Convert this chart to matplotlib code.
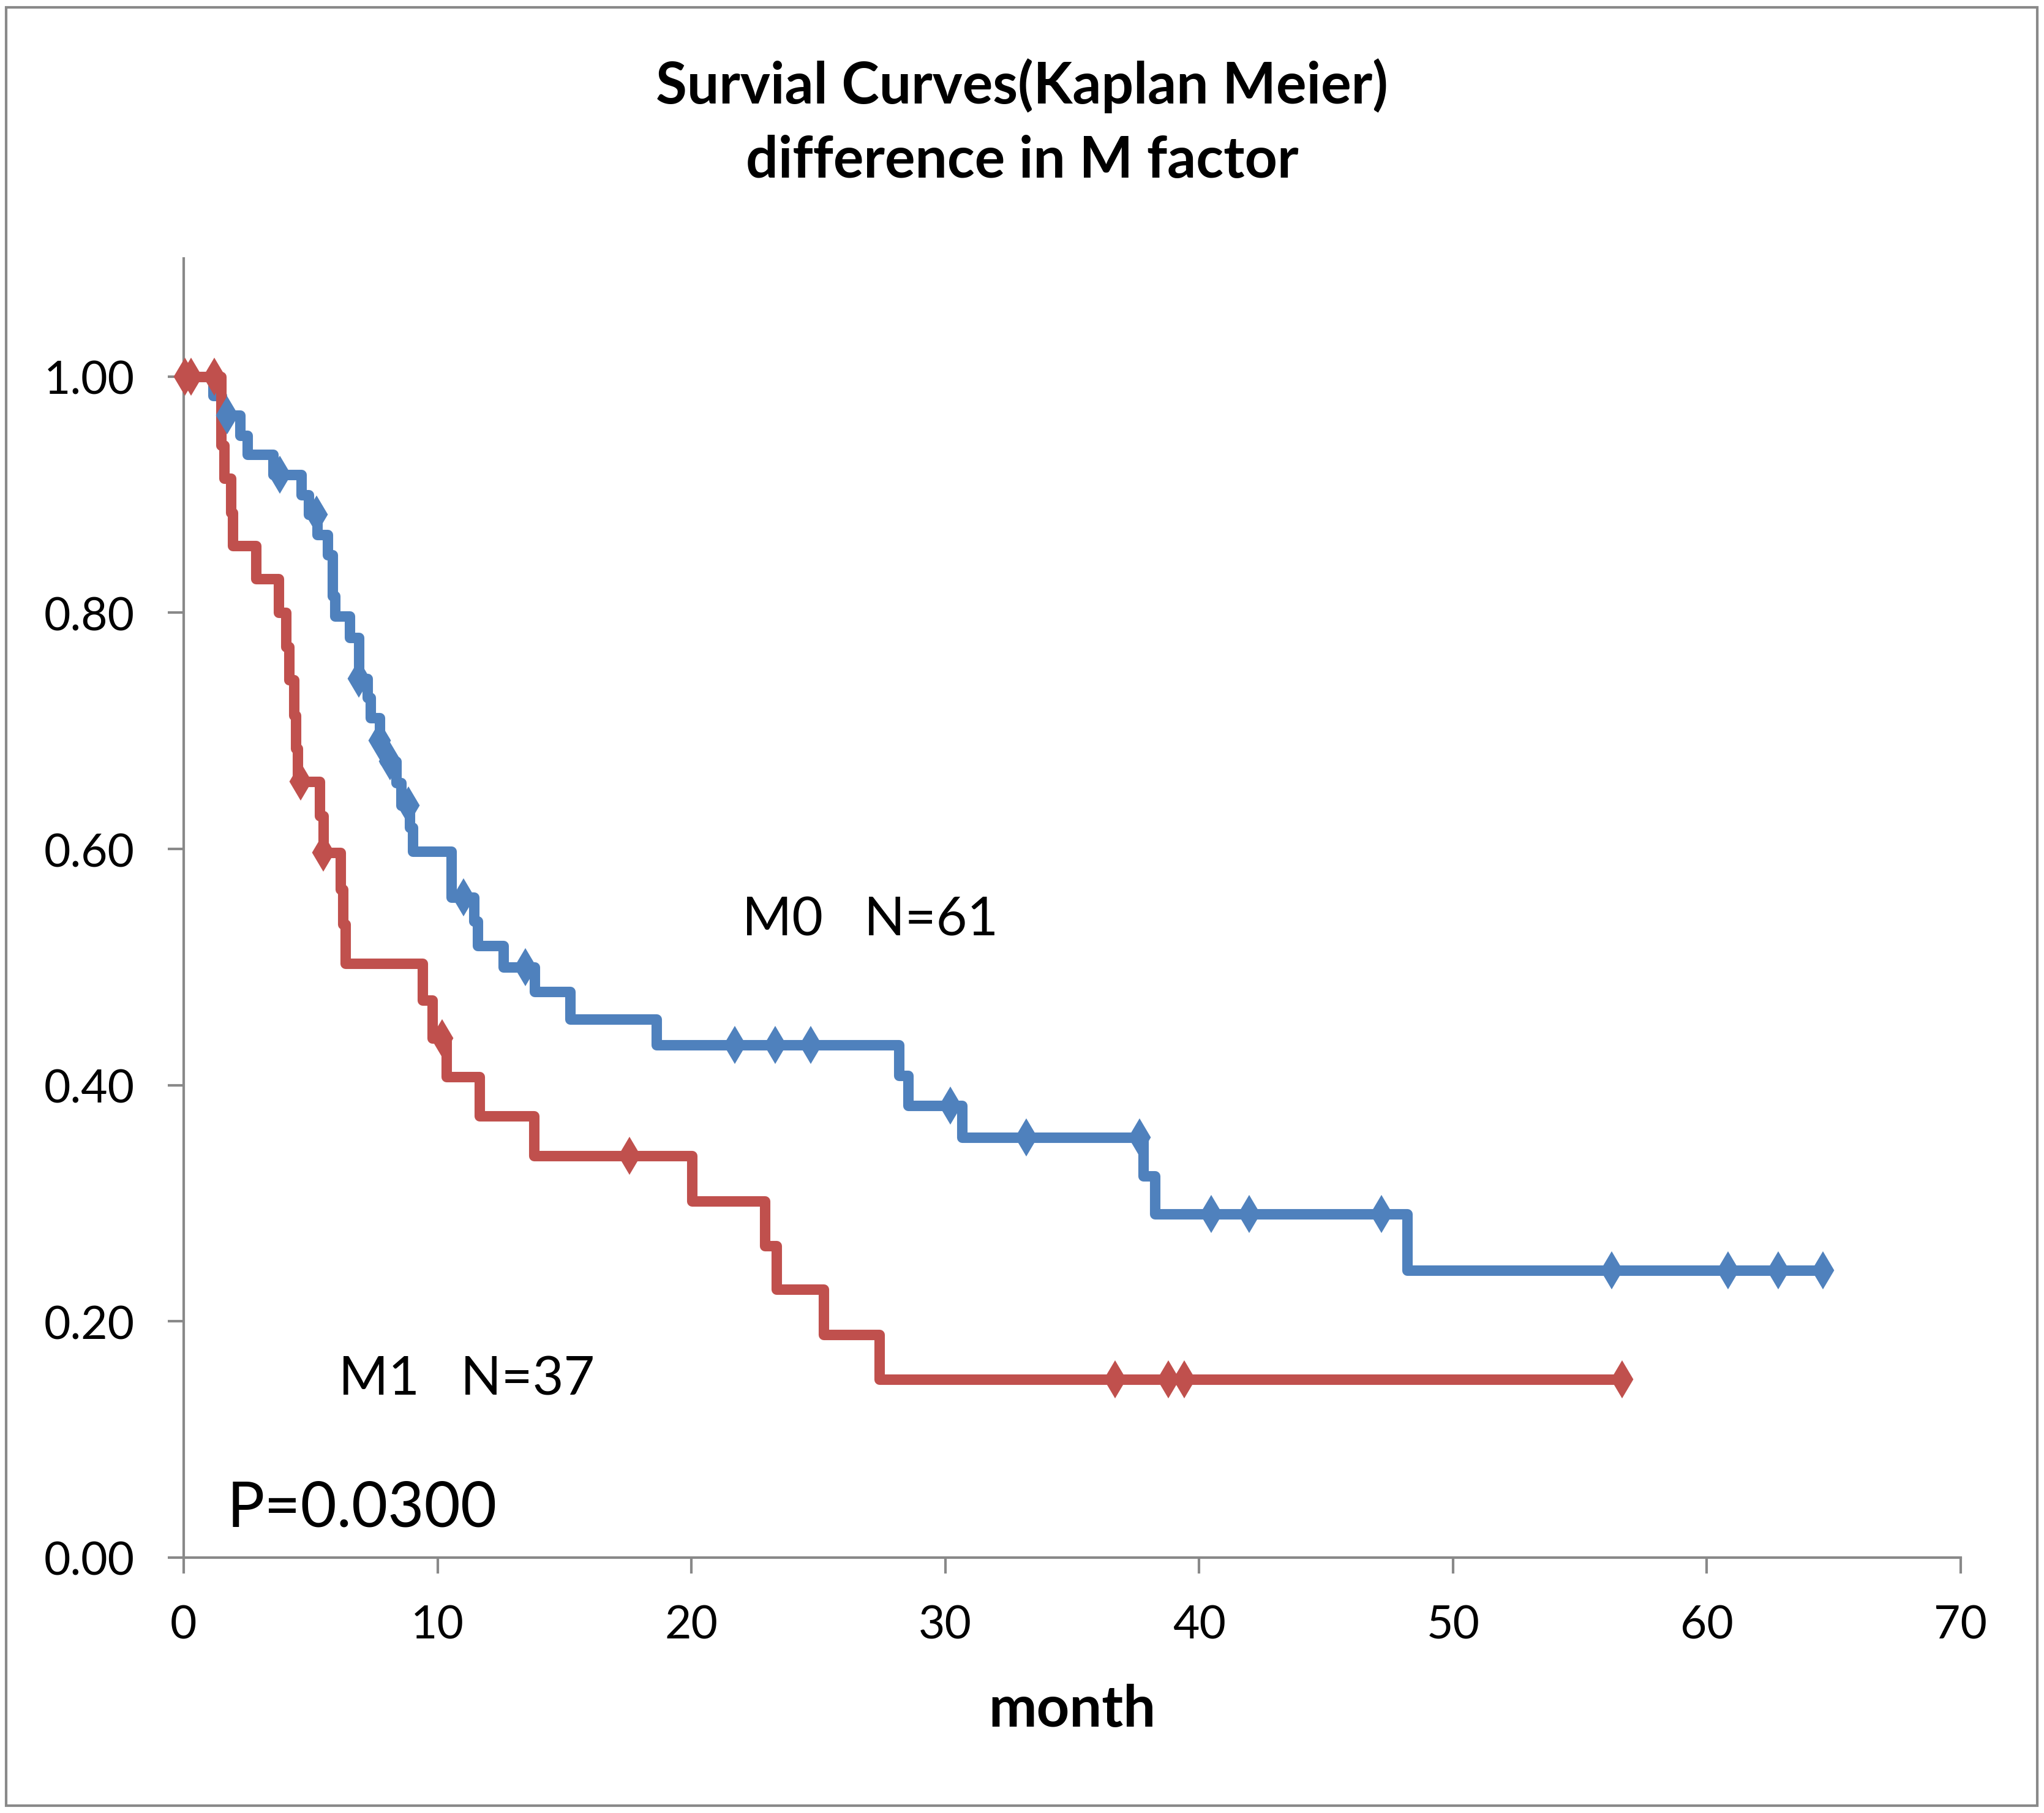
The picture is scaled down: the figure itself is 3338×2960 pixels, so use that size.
import numpy as np
import matplotlib
matplotlib.use("Agg")
import matplotlib.pyplot as plt
from matplotlib.patches import Rectangle

plt.rcParams['font.family'] = ['Lato', 'DejaVu Sans']

# ==========================================
# DATA
# ==========================================
# M0 group: step times (month) and survival after each drop
m0_times = [0, 1.16, 1.50, 2.21, 2.50, 3.53, 4.64, 4.93, 5.25, 5.66, 5.85, 5.95,
            6.54, 6.91, 7.24, 7.35, 7.71, 7.90, 8.36, 8.57, 8.89, 9.03, 10.53,
            11.44, 11.58, 12.60, 13.83, 15.23, 18.61, 28.17, 28.53, 30.65,
            37.81, 38.25, 48.20]
m0_surv = [1.0, 0.984, 0.967, 0.950, 0.934, 0.917, 0.900, 0.883, 0.866, 0.849,
           0.814, 0.797, 0.779, 0.744, 0.728, 0.711, 0.692, 0.674, 0.656, 0.637,
           0.618, 0.598, 0.559, 0.539, 0.518, 0.500, 0.479, 0.456, 0.434, 0.408,
           0.383, 0.356, 0.323, 0.291, 0.243]
m0_end = 64.57
m0_censored = [1.72, 3.79, 5.24, 6.91, 7.71, 8.14, 8.85, 11.02, 13.45, 21.72,
               23.31, 24.69, 30.20, 33.20, 37.66, 40.47, 41.97, 47.17, 56.25,
               60.83, 62.80, 64.57]

# M1 group
m1_times = [0, 1.46, 1.58, 1.85, 1.94, 2.84, 3.73, 4.02, 4.14, 4.35, 4.42, 4.48,
            5.36, 5.49, 6.18, 6.26, 6.38, 9.40, 9.79, 10.34, 11.66, 13.80,
            20.01, 22.90, 23.34, 25.20, 27.41]
m1_surv = [1.0, 0.942, 0.914, 0.885, 0.857, 0.829, 0.800, 0.771, 0.743, 0.713,
           0.685, 0.657, 0.628, 0.597, 0.566, 0.536, 0.503, 0.472, 0.440, 0.407,
           0.374, 0.340, 0.302, 0.264, 0.227, 0.189, 0.151]
m1_end = 56.66
m1_censored = [0.05, 0.30, 1.20, 4.60, 5.51, 10.19, 17.57, 36.68, 38.78, 39.42,
               56.66]

x_ticks = [0, 10, 20, 30, 40, 50, 60, 70]
y_ticks = [0.0, 0.2, 0.4, 0.6, 0.8, 1.0]

blue = '#4F81BD'
red = '#C0504D'
gray = '#898989'


def surv_at(times, surv, t):
    # value of the step function (post) at time t
    idx = np.searchsorted(times, t, side='right') - 1
    return np.array(surv)[idx]


# ==========================================
# FIGURE
# ==========================================
W, H = 3338, 2961
fig = plt.figure(figsize=(W / 300, H / 300), dpi=300)

# outer border
fig.patches.append(Rectangle((10 / W, 1 - 2949 / H), 3317 / W, 2936 / H,
                             transform=fig.transFigure, fill=False,
                             edgecolor=gray, linewidth=1.0))

ax = fig.add_axes([300 / W, 1 - 2544 / H, 2902 / W, 2121 / H])

ax.step(m0_times + [m0_end], m0_surv + [m0_surv[-1]], where='post',
        color=blue, lw=4.1, zorder=2, solid_joinstyle='round')
ax.step(m1_times + [m1_end], m1_surv + [m1_surv[-1]], where='post',
        color=red, lw=4.1, zorder=3, solid_joinstyle='round')

ax.plot(m0_censored, surv_at(m0_times, m0_surv, m0_censored), 'd',
        color=blue, ms=9.2, zorder=4, clip_on=False)
ax.plot(m1_censored, surv_at(m1_times, m1_surv, m1_censored), 'd',
        color=red, ms=9.2, zorder=5, clip_on=False)

ax.set_xlim(0, 70)
ax.set_ylim(0, 1.1)
ax.set_xticks(x_ticks)
ax.set_yticks(y_ticks)
ax.set_yticklabels([f"{v:.2f}" for v in y_ticks])

for s in ['top', 'right']:
    ax.spines[s].set_visible(False)
for s in ['left', 'bottom']:
    ax.spines[s].set_color(gray)
    ax.spines[s].set_linewidth(1.0)
ax.tick_params(axis='both', direction='out', length=6.2, width=1.0,
               color=gray, labelsize=18, labelcolor='black')
ax.tick_params(axis='x', pad=12)
ax.tick_params(axis='y', pad=13)

# annotations
ax.text(22.0, 0.527, "M0   N=61", fontsize=21, ha='left', va='baseline')
ax.text(6.1, 0.138, "M1   N=37", fontsize=21, ha='left', va='baseline')
ax.text(1.7, 0.0265, "P=0.0300", fontsize=24.5, ha='left', va='baseline')

# title and axis label
fig.text(0.5, 1 - 169 / H, "Survial Curves(Kaplan Meier)", fontsize=22.3,
         fontweight='bold', ha='center', va='baseline')
fig.text(0.5, 1 - 290 / H, "difference in M factor", fontsize=22.3,
         fontweight='bold', ha='center', va='baseline')
fig.text(1751 / W, 1 - 2819 / H, "month", fontsize=22.5, fontweight='bold',
         ha='center', va='baseline')

fig.savefig("out.png", dpi=300)
